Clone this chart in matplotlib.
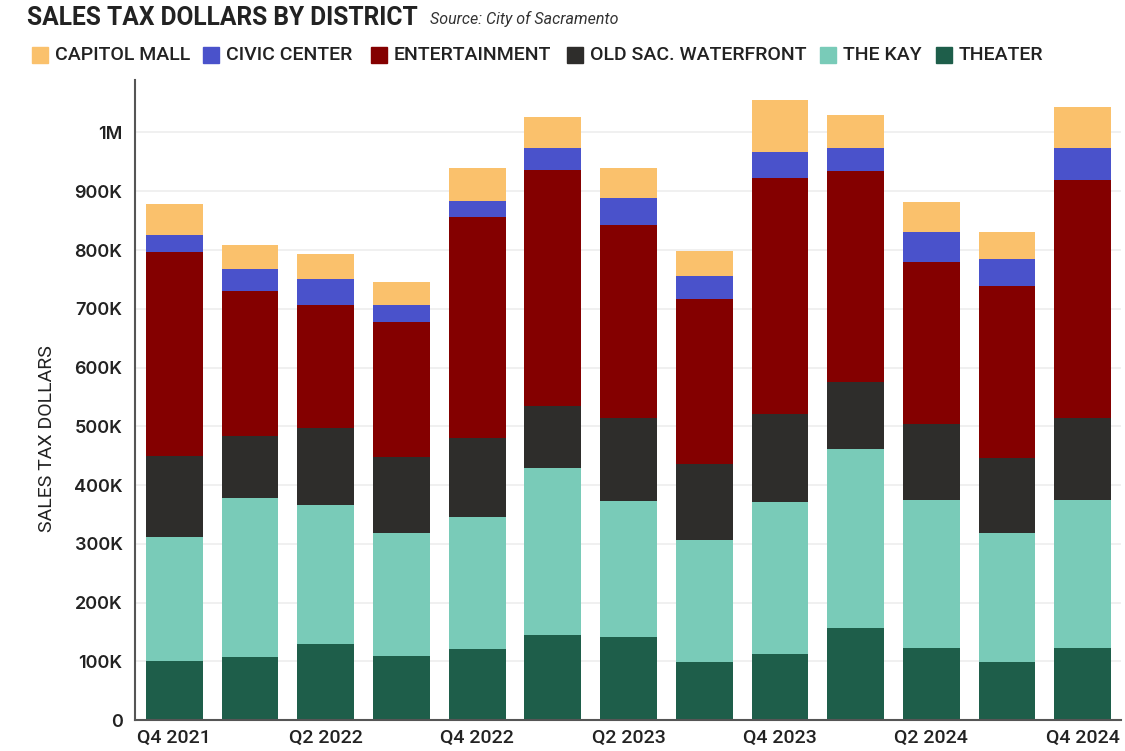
import matplotlib.pyplot as plt
import matplotlib.patches as mpatches
import numpy as np

quarters = ['Q4 2021', 'Q1 2022', 'Q2 2022', 'Q3 2022', 'Q4 2022', 'Q1 2023', 'Q2 2023',
            'Q3 2023', 'Q4 2023', 'Q1 2024', 'Q2 2024', 'Q3 2024', 'Q4 2024']

# sales tax dollars per district, thousands
theater = [100, 107, 129, 109, 121, 145, 141, 99, 112, 157, 123, 99, 123]
the_kay = [212, 271, 237, 210, 225, 284, 232, 208, 259, 305, 252, 220, 252]
old_sac = [138, 106, 131, 129, 134, 106, 141, 129, 150, 114, 129, 127, 139]
entertainment = [346, 247, 210, 230, 377, 402, 329, 280, 402, 358, 276, 293, 406]
civic_center = [30, 36, 43, 29, 27, 36, 45, 40, 43, 39, 50, 46, 54]
capitol_mall = [53, 41, 44, 39, 55, 54, 51, 43, 90, 56, 52, 45, 70]

# bottom to top
series = [
    ('THEATER', theater, '#1E5E4A'),
    ('THE KAY', the_kay, '#79CBB8'),
    ('OLD SAC. WATERFRONT', old_sac, '#2E2D2B'),
    ('ENTERTAINMENT', entertainment, '#840000'),
    ('CIVIC CENTER', civic_center, '#4A52CB'),
    ('CAPITOL MALL', capitol_mall, '#FAC16C'),
]

fig = plt.figure(figsize=(11.25, 7.51), dpi=100)
ax = fig.add_axes([0.12, 0.041, 0.876, 0.853])

x = np.arange(len(quarters))
bottom = np.zeros(len(quarters))
for name, vals, col in series:
    v = np.array(vals) * 1000
    ax.bar(x, v, bottom=bottom, width=0.75, color=col, linewidth=0, zorder=3)
    bottom += v

ax.set_xlim(-0.52, 12.5)
ax.set_ylim(0, 1.09e6)
ticks = np.arange(0, 1.0e6 + 1, 1e5)
ax.set_yticks(ticks)
ax.set_yticklabels(['0'] + ['%dK' % (t / 1000) for t in ticks[1:-1]] + ['1M'],
                   fontsize=13, family='Inter', fontweight='semibold', color='#222222')
ax.set_xticks(x[::2])
ax.set_xticklabels(quarters[::2], fontsize=14, family='Roboto', fontweight='medium',
                   color='#222222')
ax.tick_params(axis='both', length=0)
ax.tick_params(axis='y', pad=9)
ax.tick_params(axis='x', pad=6)
ax.grid(axis='y', color='#EEEEEE', linewidth=1.2, zorder=0)

for s in ['top', 'right']:
    ax.spines[s].set_visible(False)
for s in ['left', 'bottom']:
    ax.spines[s].set_color('#555555')
    ax.spines[s].set_linewidth(1.5)
    ax.spines[s].set_zorder(4)

ax.set_ylabel('SALES TAX DOLLARS', fontsize=14, family='Roboto', color='#222222')
ax.yaxis.set_label_coords(-0.08, 0.44)

# title and source
fig.text(27 / 1125, 1 - 18 / 751, 'SALES TAX DOLLARS BY DISTRICT', fontsize=17.7,
         family='Roboto', fontweight='bold', color='#222222', va='center', ha='left')
fig.text(430 / 1125, 1 - 19 / 751, 'Source: City of Sacramento', fontsize=11.5,
         family='Roboto', style='italic', color='#333333', va='center', ha='left')

# legend row
legend_items = [
    ('CAPITOL MALL', '#FAC16C', 32),
    ('CIVIC CENTER', '#4A52CB', 203),
    ('ENTERTAINMENT', '#840000', 371),
    ('OLD SAC. WATERFRONT', '#2E2D2B', 567),
    ('THE KAY', '#79CBB8', 820),
    ('THEATER', '#1E5E4A', 936),
]
ly = 55
for label, col, px in legend_items:
    fig.patches.append(mpatches.Rectangle((px / 1125, 1 - (ly + 8) / 751), 16 / 1125, 16 / 751,
                                          transform=fig.transFigure, color=col))
    fig.text((px + 23) / 1125, 1 - ly / 751, label, fontsize=14, family='Roboto',
             fontweight='medium', color='#222222', va='center', ha='left')

fig.savefig('out.png', dpi=100, facecolor='white')
